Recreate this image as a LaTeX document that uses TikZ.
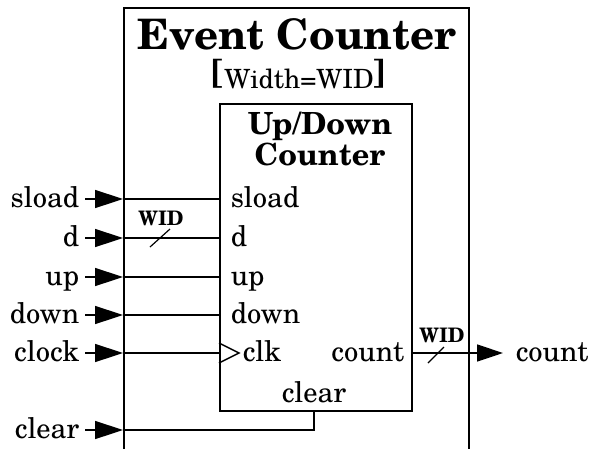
\documentclass[tikz,border=0pt]{standalone}
\usepackage{fontspec}
\setmainfont{texgyreschola}[Extension=.otf, UprightFont=*-regular, BoldFont=*-bold, ItalicFont=*-italic, BoldItalicFont=*-bolditalic]
\usetikzlibrary{arrows.meta}
\newcommand{\bigbrk}[1]{\raisebox{4pt}{\fontsize{35}{35}\selectfont\bfseries #1}}
\begin{document}
\begin{tikzpicture}[x=1pt,y=-1pt,line width=1.5pt,
  boxnode/.style={draw, line width=1.5pt, inner sep=0pt, anchor=north west},
  lbl/.style={font=\fontsize{28.5}{32}\selectfont, inner ysep=0pt, inner xsep=0pt, text height=18pt, text depth=2pt},
  widlbl/.style={font=\fontsize{20}{24}\selectfont\bfseries, inner sep=0pt, anchor=base},
  sigarrow/.style={-{Triangle[length=28pt,width=18pt]}},
  outarrow/.style={-{Triangle[length=26pt,width=17pt]}}]
\useasboundingbox (0,0) rectangle (589,448);
\clip (0,0) rectangle (589,448);
\node[boxnode, minimum width=345pt, minimum height=480pt] (outer) at (123,7) {};
\node[boxnode, minimum width=192pt, minimum height=307pt] (ctr) at (219,103) {};
\node[font=\fontsize{42}{46}\selectfont\bfseries, anchor=base, inner sep=0pt] (title) at (297,49) {Event Counter};
\node[font=\fontsize{26.5}{28}\selectfont, anchor=base, inner sep=0pt] (param) at (299,88) {\bigbrk{[}Width=WID\bigbrk{]}};
\node[font=\fontsize{30.5}{34}\selectfont\bfseries, anchor=base, inner sep=0pt] (ud) at (320,134) {Up/Down};
\node[font=\fontsize{30.5}{34}\selectfont\bfseries, anchor=base, inner sep=0pt] (cn) at (320,165) {Counter};
\foreach \n/\y in {sload/199, d/238, up/277, down/315, clock/353, clear/430} {
  \coordinate (o-\n) at (123,\y);
  \node[lbl, anchor=east, inner xsep=5pt] (l-\n) at (85,\y) {\n};
  \draw[sigarrow] (l-\n) -- (o-\n);
}
\foreach \n/\y in {sload/199, d/238, up/277, down/315} {
  \node[lbl, anchor=west] (p-\n) at (230,\y) {\n};
  \draw (o-\n) -- (ctr.west |- o-\n);
}
\draw (o-clock) -- (ctr.west |- o-clock);
\draw (ctr.west |- o-clock) ++(0,-10) -- ++(20,10) -- ++(-20,10);
\node[lbl, anchor=west] (p-clk) at (242,353) {clk};
\node[lbl, anchor=east] (p-count) at (405,353) {count};
\node[lbl, anchor=south] (p-clear) at (314,405) {clear};
\draw (o-clear) -| (ctr.south -| p-clear);
\node[lbl, anchor=west, inner xsep=12pt] (out-count) at (503,353) {count};
\draw[outarrow] (ctr.east |- out-count) -- (out-count);
\coordinate (bus-d) at (160,238);
\coordinate (bus-c) at (436,355);
\draw[line width=1.2pt] ([shift={(-10,9)}]bus-d) -- ([shift={(10,-9)}]bus-d);
\draw[line width=1.2pt] ([shift={(-8,8)}]bus-c) -- ([shift={(8,-8)}]bus-c);
\node[widlbl] (w-d) at (161,225) {WID};
\node[widlbl] (w-c) at (442,342) {WID};
\end{tikzpicture}
\end{document}
